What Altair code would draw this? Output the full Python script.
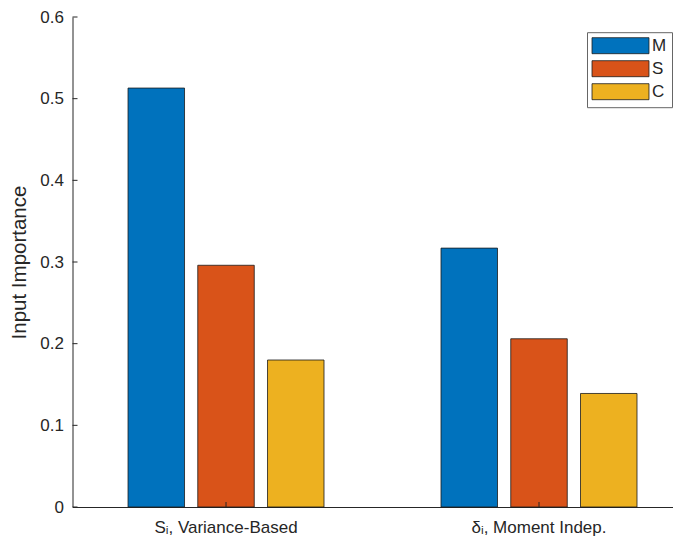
import altair as alt
import pandas as pd

categories = ["Sᵢ, Variance-Based", "δᵢ, Moment Indep."]
series = ["M", "S", "C"]
m_values = [0.513, 0.317]
s_values = [0.296, 0.206]
c_values = [0.180, 0.139]
colors = ["#0072BD", "#D95319", "#EDB120"]
y_ticks = [0, 0.1, 0.2, 0.3, 0.4, 0.5, 0.6]

rows = []
for name, vals in zip(series, [m_values, s_values, c_values]):
    for cat, v in zip(categories, vals):
        rows.append({"category": cat, "series": name, "value": v})
bars_df = pd.DataFrame(rows)
ytick_df = pd.DataFrame({"value": y_ticks})
xtick_df = pd.DataFrame({"category": categories})

FONT = "Liberation Sans"
AX = "#262626"
W, H = 600, 490

x_scale = alt.Scale(domain=categories, paddingInner=0.3738, paddingOuter=0.1454,
                    align=0.61, round=False)
y_scale = alt.Scale(domain=[0, 0.6], nice=False, zero=True)

y_axis = alt.Axis(
    values=y_ticks, ticks=False, grid=False, domainColor=AX, domainWidth=1,
    labelExpr="datum.value == 0 ? '0' : format(datum.value, '.1f')",
    labelFont=FONT, labelFontSize=17, labelColor=AX, labelPadding=9,
    title="Input Importance", titleFont=FONT, titleFontSize=20.5, titleFontWeight="normal",
    titleColor=AX, titleAngle=-90, titleX=-53, titleY=245, titleAlign="center",
    titleBaseline="middle",
)
x_axis = alt.Axis(
    title=None, ticks=False, grid=False, domainColor=AX, domainWidth=1,
    labelFont=FONT, labelFontSize=17, labelColor=AX, labelPadding=12, labelAngle=0,
)

bars = alt.Chart(bars_df).mark_bar(stroke="#1a1a1a", strokeWidth=0.8).encode(
    x=alt.X("category:N", scale=x_scale, axis=x_axis, sort=categories),
    xOffset=alt.XOffset("series:N", sort=series,
                        scale=alt.Scale(domain=series, paddingInner=0.19, paddingOuter=0,
                                        round=False)),
    y=alt.Y("value:Q", scale=y_scale, axis=y_axis),
    color=alt.Color(
        "series:N", sort=series,
        scale=alt.Scale(domain=series, range=colors),
        legend=alt.Legend(
            orient="none", legendX=514.5, legendY=15.2, title=None,
            symbolType="M-3.56,-1H3.56V1H-3.56Z", symbolSize=256,
            symbolOffset=20, labelOffset=23,
            symbolStrokeColor="#1a1a1a", symbolStrokeWidth=0.8, symbolOpacity=1,
            labelFont=FONT, labelFontSize=17, labelColor=AX,
            padding=5, rowPadding=2, strokeColor="#666666", fillColor="white",
        ),
    ),
)

yticks = alt.Chart(ytick_df).mark_rule(color=AX, strokeWidth=1).encode(
    y=alt.Y("value:Q", scale=y_scale),
    x=alt.value(0), x2=alt.value(5),
)

xticks = alt.Chart(xtick_df).mark_rule(color=AX, strokeWidth=1).encode(
    x=alt.X("category:N", scale=x_scale, sort=categories),
    y=alt.value(H), y2=alt.value(H - 5),
)

chart = alt.layer(bars, yticks, xticks).properties(
    width=W, height=H,
    autosize=alt.AutoSizeParams(type="none"),
    padding={"left": 64.5, "top": 9, "right": 0, "bottom": 33},
).configure(background="white", view=alt.ViewConfig(stroke=None))

chart.save("out.html", embed_options={"renderer": "svg", "actions": False})
